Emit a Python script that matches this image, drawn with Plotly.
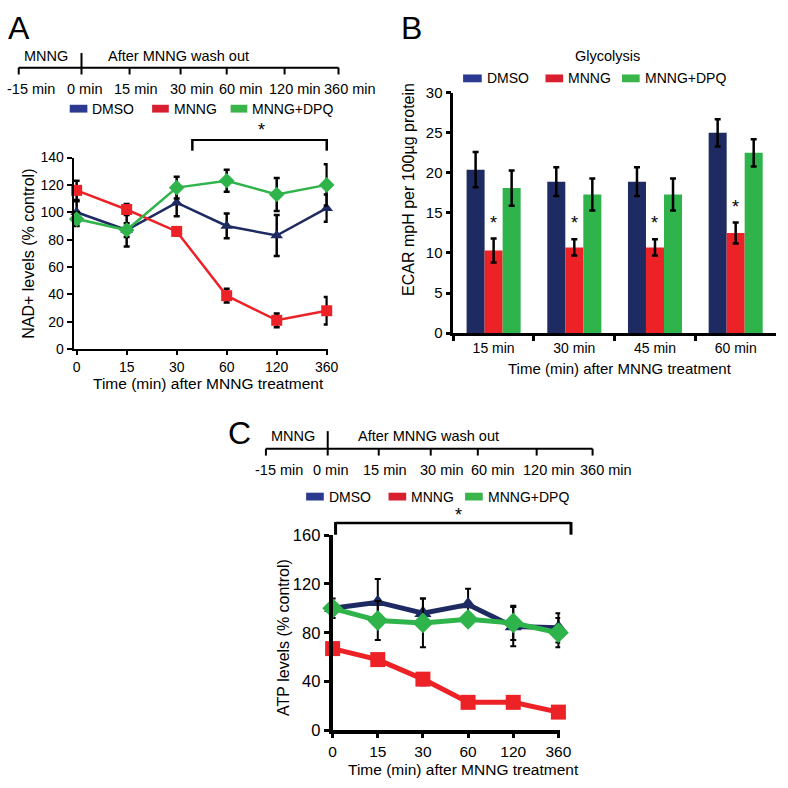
import plotly.graph_objects as go

# ---------------- data ----------------
series_names = ["DMSO", "MNNG", "MNNG+DPQ"]

# Panel A: NAD+ levels (% control)
a_time_labels = ["0", "15", "30", "60", "120", "360"]
a_dmso = [100, 87, 107, 90, 83, 103]
a_dmso_err = [8, 12, 10, 9, 15, 10]
a_mnng = [116, 102, 86, 39, 21, 28]
a_mnng_err = [7, 4, 3, 5, 5, 10]
a_dpq = [95, 87, 118, 123, 113, 120]
a_dpq_err = [5, 5, 8, 8, 12, 15]

# Panel B: ECAR (glycolysis)
b_time_labels = ["15 min", "30 min", "45 min", "60 min"]
b_dmso = [20.4, 18.9, 18.9, 25.0]
b_dmso_err = [2.2, 1.8, 1.8, 1.7]
b_mnng = [10.3, 10.7, 10.7, 12.5]
b_mnng_err = [1.5, 1.0, 1.0, 1.3]
b_dpq = [18.1, 17.3, 17.3, 22.5]
b_dpq_err = [2.2, 2.0, 2.0, 1.7]

# Panel C: ATP levels (% control)
c_time_labels = ["0", "15", "30", "60", "120", "360"]
c_dmso = [100, 105, 96, 103, 85, 84]
c_dmso_err = [8, 19, 12, 13, 16, 12]
c_mnng = [67, 58, 42, 23, 23, 15]
c_mnng_err = [3, 3, 5, 2, 2, 2]
c_dpq = [100, 90, 88, 91, 88, 80]
c_dpq_err = [5, 16, 20, 5, 14, 12]

# timeline labels
timeline_labels = ["-15 min", "0 min", "15 min", "30 min", "60 min", "120 min", "360 min"]

# ---------------- styles ----------------
FONT = "Liberation Sans, Arial, sans-serif"
W = H = 788
LINE_BLUE = "#1e2b62"
LINE_RED = "#ec2227"
LINE_GREEN = "#2fb34b"
LEG_BLUE = "#2b3990"
LEG_RED = "#d91f2f"
LEG_GREEN = "#3ab54a"


def px(x):
    return x / W


def py(y):
    return 1 - y / H


fig = go.Figure()

# ---------- Panel A ----------
a_x = list(range(len(a_time_labels)))
for vals, errs, col, sym, name in [
    (a_dmso, a_dmso_err, LINE_BLUE, "triangle-up", "DMSO"),
    (a_mnng, a_mnng_err, LINE_RED, "square", "MNNG"),
    (a_dpq, a_dpq_err, LINE_GREEN, "diamond", "MNNG+DPQ"),
]:
    fig.add_trace(go.Scatter(
        x=a_x, y=vals, mode="lines+markers", name=name,
        line=dict(color=col, width=2.5),
        marker=dict(symbol=sym, size=11 if sym != "diamond" else 12, color=col),
        error_y=dict(type="data", array=errs, visible=True, color="black", thickness=2.5, width=3),
        cliponaxis=False, showlegend=False, xaxis="x", yaxis="y",
    ))

# ---------- Panel B ----------
for vals, errs, col, name in [
    (b_dmso, b_dmso_err, LINE_BLUE, "DMSO"),
    (b_mnng, b_mnng_err, LINE_RED, "MNNG"),
    (b_dpq, b_dpq_err, LINE_GREEN, "MNNG+DPQ"),
]:
    fig.add_trace(go.Bar(
        x=b_time_labels, y=vals, name=name, marker=dict(color=col, line=dict(width=0)),
        error_y=dict(type="data", array=errs, visible=True, color="black", thickness=2.5, width=3),
        showlegend=False, xaxis="x2", yaxis="y2",
    ))

# ---------- Panel C ----------
c_x = list(range(len(c_time_labels)))
for vals, errs, col, sym, name in [
    (c_mnng, c_mnng_err, LINE_RED, "square", "MNNG"),
    (c_dmso, c_dmso_err, LINE_BLUE, "triangle-up", "DMSO"),
    (c_dpq, c_dpq_err, LINE_GREEN, "diamond", "MNNG+DPQ"),
]:
    fig.add_trace(go.Scatter(
        x=c_x, y=vals, mode="lines+markers", name=name,
        line=dict(color=col, width=5),
        marker=dict(symbol=sym, size=15 if sym != "diamond" else 16, color=col),
        error_y=dict(type="data", array=errs, visible=True, color="black", thickness=2, width=3),
        cliponaxis=False, showlegend=False, xaxis="x3", yaxis="y3",
    ))

axis_common = dict(showgrid=False, zeroline=False, showline=True, linecolor="black",
                   ticks="outside", tickcolor="black", color="black")

fig.update_layout(
    width=W, height=H, margin=dict(l=0, r=0, t=0, b=0),
    paper_bgcolor="white", plot_bgcolor="white",
    font=dict(family=FONT, color="black", size=14),
    barmode="group", bargap=0.33, bargroupgap=0,
    hovermode=False,
    xaxis=dict(domain=[px(71), px(330)], anchor="y", range=[-0.06, 5.02],
               tickvals=a_x, ticktext=a_time_labels, linewidth=2, ticklen=4, tickwidth=2,
               tickfont=dict(size=14), **axis_common),
    yaxis=dict(domain=[py(348), py(152)], anchor="x", range=[0, 140], dtick=20,
               linewidth=2, ticklen=5, tickwidth=2, tickfont=dict(size=14), **axis_common),
    xaxis2=dict(domain=[px(458), px(787)], anchor="y2", type="category", tickson="boundaries",
                range=[-0.5, 3.5], linewidth=2.5, ticklen=5, tickwidth=2.5,
                tickfont=dict(size=14), **axis_common),
    yaxis2=dict(domain=[py(331.7), py(85.7)], anchor="x2", range=[0, 30], dtick=5,
                linewidth=2.5, ticklen=5, tickwidth=2.5, tickfont=dict(size=15), **axis_common),
    xaxis3=dict(domain=[px(335), px(567)], anchor="y3", range=[0, 5.04],
                tickvals=c_x, ticktext=c_time_labels, linewidth=4, ticklen=4, tickwidth=3,
                tickfont=dict(size=15.5), **axis_common),
    yaxis3=dict(domain=[py(738.3), py(538.3)], anchor="x3", range=[0, 160], dtick=40,
                linewidth=4, ticklen=5, tickwidth=3, tickfont=dict(size=16.5), **axis_common),
)

shapes = []
annotations = []


def line(x0, y0, x1, y1, w=2):
    shapes.append(dict(type="line", xref="paper", yref="paper",
                       x0=px(x0), y0=py(y0), x1=px(x1), y1=py(y1),
                       line=dict(color="black", width=w)))


def text(x, y, s, size=14, angle=0, color="black", xanchor="center"):
    annotations.append(dict(xref="paper", yref="paper", x=px(x), y=py(y), text=s,
                            showarrow=False, xanchor=xanchor, yanchor="middle",
                            textangle=angle, font=dict(size=size, color=color, family=FONT)))


def timeline(tick_x, label_x, y_line, y_tick_end, zero_top, lab_y, mnng_x, after_x, head_y):
    line(tick_x[0], y_line, tick_x[-1], y_line, 2)
    for i, tx in enumerate(tick_x):
        if i == 1:
            line(tx, zero_top, tx, y_tick_end, 2)
        else:
            line(tx, y_line, tx, y_tick_end, 2)
    for lx, lab in zip(label_x, timeline_labels):
        text(lx, lab_y, lab, 14.5)
    text(mnng_x, head_y, "MNNG", 14.5)
    text(after_x, head_y, "After MNNG wash out", 14.5)


def legend(sw_x, y, size=14):
    for (x0, x1), col, name in zip(sw_x, [LEG_BLUE, LEG_RED, LEG_GREEN], series_names):
        shapes.append(dict(type="rect", xref="paper", yref="paper",
                           x0=px(x0), x1=px(x1), y0=py(y + 4), y1=py(y - 4),
                           fillcolor=col, line=dict(width=0)))
        text(x1 + 3, y, name, size, xanchor="left")


# Panel A decorations
text(15, 19, "A", 32)
timeline([15, 79, 128, 180, 227, 286, 341], [28, 82, 135, 192, 242, 297, 353],
         60, 67, 45, 82, 43, 178, 48)
legend([(67, 85), (151, 168), (231, 248)], 102)
line(192, 134, 329, 134, 2)
line(192, 133, 192, 145, 2.5)
line(329, 133, 329, 145, 2.5)
text(263, 124, "*", 18)
text(25, 251, "NAD+ levels (% control)", 16, angle=-90)
text(208, 383, "Time (min) after MNNG treatment", 15.5)

# Panel B decorations
text(415, 19, "B", 32)
text(615, 48, "Glycolysis", 14.5)
legend([(468, 487), (552, 570), (630, 648)], 71)
text(413, 185, "ECAR mpH per 100µg protein", 16, angle=-90)
text(628, 368, "Time (min) after MNNG treatment", 15)
for cat, v, e in zip(b_time_labels, b_mnng, b_mnng_err):
    annotations.append(dict(xref="x2", yref="y2", x=cat, y=v + e, text="*",
                            showarrow=False, yanchor="bottom", yshift=4,
                            font=dict(size=18, color="black", family=FONT)))

# Panel C decorations
text(240, 434, "C", 32)
timeline([267, 330, 382, 435, 483, 543, 600], [280, 333, 388, 447, 498, 556, 614],
         450, 457, 432, 472, 295, 433, 437)
legend([(308, 326), (392, 410), (470, 488)], 499)
line(338, 526, 578, 526, 2.5)
line(338, 525, 338, 538, 3)
line(578, 525, 578, 538, 3)
text(463, 518, "*", 18)
text(285, 643, "ATP levels (% control)", 16, angle=-90)
text(468, 778, "Time (min) after MNNG treatment", 15.5)

fig.update_layout(shapes=shapes, annotations=annotations)
fig.write_html("out.html", config={"displayModeBar": False},
               post_script="document.body.style.margin='0';document.body.style.padding='0';")
